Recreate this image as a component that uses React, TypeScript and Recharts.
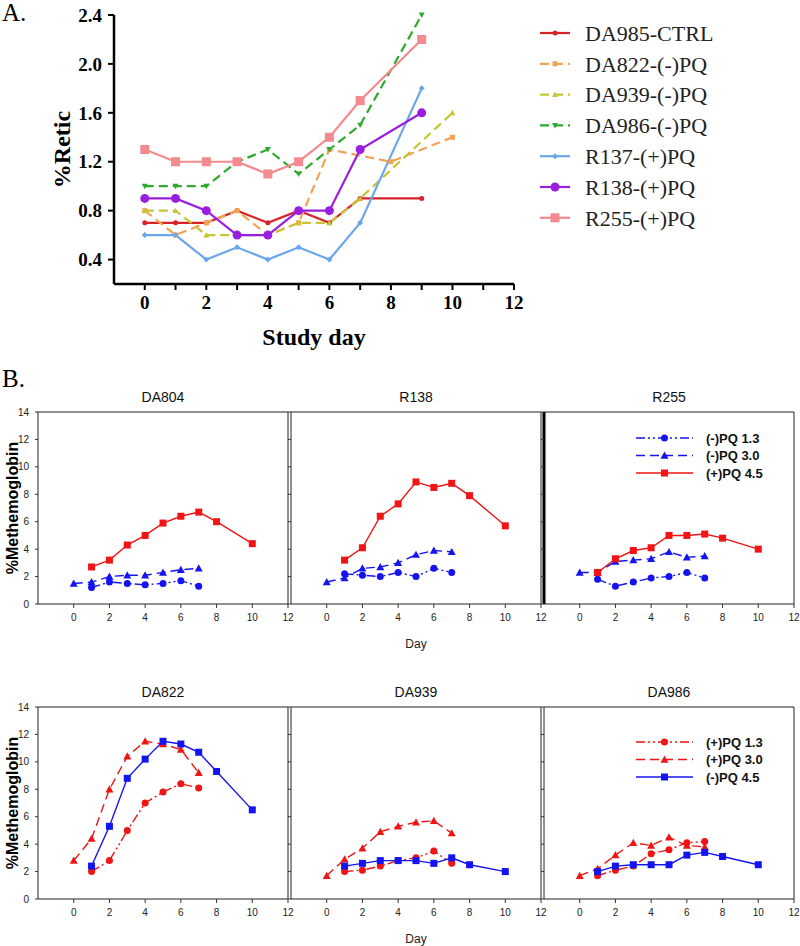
import React from 'react';
import { LineChart, Line, XAxis, YAxis, Legend, ReferenceArea, ReferenceLine } from 'recharts';

const SERIF = "'Liberation Serif', 'Times New Roman', serif";
const SANS = "'Liberation Sans', Arial, sans-serif";

// ---- Panel A: %Retic by study day ----
const studyDays = [0, 1, 2, 3, 4, 5, 6, 7, 8, 9, 10];
const da985Ctrl = [0.7, 0.7, 0.7, 0.8, 0.7, 0.8, 0.7, 0.9, null, 0.9, null];
const da822Minus = [0.8, 0.6, 0.7, 0.8, 0.6, 0.7, 1.3, null, 1.2, null, 1.4];
const da939Minus = [0.8, 0.8, 0.6, 0.6, 0.6, 0.7, 0.7, 0.9, null, null, 1.6];
const da986Minus = [1.0, 1.0, 1.0, 1.2, 1.3, 1.1, 1.3, 1.5, null, 2.4, null];
const r137Plus = [0.6, 0.6, 0.4, 0.5, 0.4, 0.5, 0.4, 0.7, null, 1.8, null];
const r138Plus = [0.9, 0.9, 0.8, 0.6, 0.6, 0.8, 0.8, 1.3, null, 1.6, null];
const r255Plus = [1.3, 1.2, 1.2, 1.2, 1.1, 1.2, 1.4, 1.7, null, 2.2, null];
const reticTicks = [0.4, 0.8, 1.2, 1.6, 2.0, 2.4];
const studyDayTicks = [0, 1, 2, 3, 4, 5, 6, 7, 8, 9, 10, 11, 12];

// ---- Panel B: %Methemoglobin by day ----
const metDays = [0, 1, 2, 3, 4, 5, 6, 7, 8, 10];
const dayTicks = [0, 2, 4, 6, 8, 10, 12];
const metTicks = [0, 2, 4, 6, 8, 10, 12, 14];

const da804Low = [null, 1.2, 1.6, 1.5, 1.4, 1.5, 1.7, 1.3, null, null];
const da804Mid = [1.5, 1.6, 2.0, 2.1, 2.1, 2.3, 2.5, 2.6, null, null];
const da804High = [null, 2.7, 3.2, 4.3, 5.0, 5.9, 6.4, 6.7, 6.0, 4.4];

const r138Low = [null, 2.2, 2.1, 2.0, 2.3, 2.0, 2.6, 2.3, null, null];
const r138Mid = [1.6, 1.9, 2.6, 2.7, 3.0, 3.6, 3.9, 3.8, null, null];
const r138High = [null, 3.2, 4.1, 6.4, 7.3, 8.9, 8.5, 8.8, 7.9, 5.7];

const r255Low = [null, 1.8, 1.3, 1.6, 1.9, 2.0, 2.3, 1.9, null, null];
const r255Mid = [2.3, 2.3, 3.1, 3.2, 3.3, 3.8, 3.4, 3.5, null, null];
const r255High = [null, 2.3, 3.3, 3.9, 4.1, 5.0, 5.0, 5.1, 4.8, 4.0];

const da822Low = [null, 2.0, 2.8, 5.0, 7.0, 7.8, 8.4, 8.1, null, null];
const da822Mid = [2.8, 4.4, 8.0, 10.4, 11.5, 11.3, 10.9, 9.2, null, null];
const da822High = [null, 2.4, 5.3, 8.8, 10.2, 11.5, 11.3, 10.7, 9.3, 6.5];

const da939Low = [null, 2.0, 2.1, 2.4, 2.8, 3.0, 3.5, 2.6, null, null];
const da939Mid = [1.7, 2.9, 3.7, 4.9, 5.3, 5.6, 5.7, 4.8, null, null];
const da939High = [null, 2.4, 2.6, 2.8, 2.8, 2.8, 2.6, 3.0, 2.5, 2.0];

const da986Low = [null, 1.7, 2.1, 2.4, 3.3, 3.6, 4.1, 4.2, null, null];
const da986Mid = [1.7, 2.2, 3.2, 4.1, 3.9, 4.5, 3.9, 3.8, null, null];
const da986High = [null, 2.0, 2.4, 2.5, 2.5, 2.5, 3.2, 3.4, 3.1, 2.5];

const topLegend = ['(-)PQ 1.3', '(-)PQ 3.0', '(+)PQ 4.5'];
const bottomLegend = ['(+)PQ 1.3', '(+)PQ 3.0', '(-)PQ 4.5'];

type Shape = 'circle' | 'square' | 'triangle' | 'triangleDown' | 'diamond';

interface SeriesStyle {
  key: string;
  name: string;
  color: string;
  dash?: string;
  shape: Shape;
  size: number;
  width: number;
}

function Marker({ shape, x, y, size, color }: { shape: Shape; x: number; y: number; size: number; color: string }) {
  const h = size / 2;
  if (shape === 'circle') return <circle cx={x} cy={y} r={h} fill={color} />;
  if (shape === 'square') return <rect x={x - h} y={y - h} width={size} height={size} fill={color} />;
  if (shape === 'diamond')
    return <polygon points={`${x},${y - h} ${x + h},${y} ${x},${y + h} ${x - h},${y}`} fill={color} />;
  if (shape === 'triangleDown')
    return <polygon points={`${x - h},${y - h * 0.8} ${x + h},${y - h * 0.8} ${x},${y + h}`} fill={color} />;
  return <polygon points={`${x},${y - h} ${x + h},${y + h * 0.8} ${x - h},${y + h * 0.8}`} fill={color} />;
}

const dotFor = (s: SeriesStyle) => (p: any) =>
  p.cx == null || p.cy == null ? (
    <g key={`${s.key}-${p.index}`} />
  ) : (
    <Marker key={`${s.key}-${p.index}`} shape={s.shape} x={p.cx} y={p.cy} size={s.size} color={s.color} />
  );

// rotated axis title, centred on the axis viewBox
function VerticalLabel(props: any) {
  const { viewBox, text, shift = 0, size = 16, weight = 'bold', family = SANS } = props;
  if (!viewBox) return null;
  const x = viewBox.x + shift;
  const y = viewBox.y + viewBox.height / 2;
  return (
    <text
      x={x}
      y={y}
      transform={`rotate(-90, ${x}, ${y})`}
      textAnchor="middle"
      dominantBaseline="central"
      fontSize={size}
      fontWeight={weight}
      fontFamily={family}
      fill="#000"
    >
      {text}
    </text>
  );
}

const reticSeries: (SeriesStyle & { values: (number | null)[] })[] = [
  { key: 'c985', name: 'DA985-CTRL', color: '#d8222a', shape: 'circle', size: 5, width: 2.2, values: da985Ctrl },
  { key: 'm822', name: 'DA822-(-)PQ', color: '#f2a456', dash: '9 5', shape: 'square', size: 5, width: 2.2, values: da822Minus },
  { key: 'm939', name: 'DA939-(-)PQ', color: '#c8c436', dash: '9 5', shape: 'triangle', size: 6, width: 2.2, values: da939Minus },
  { key: 'm986', name: 'DA986-(-)PQ', color: '#2eaa2e', dash: '9 5', shape: 'triangleDown', size: 6, width: 2.2, values: da986Minus },
  { key: 'p137', name: 'R137-(+)PQ', color: '#69a6ec', shape: 'diamond', size: 6, width: 2.2, values: r137Plus },
  { key: 'p138', name: 'R138-(+)PQ', color: '#9a1ee0', shape: 'circle', size: 9, width: 2.2, values: r138Plus },
  { key: 'p255', name: 'R255-(+)PQ', color: '#f28a8e', shape: 'square', size: 9, width: 2.2, values: r255Plus },
];

const reticData = studyDays.map((day, i) => {
  const row: Record<string, number | null> = { day };
  reticSeries.forEach((s) => {
    row[s.key] = s.values[i];
  });
  return row;
});

function LegendSample({ s, x, y, len }: { s: SeriesStyle; x: number; y: number; len: number }) {
  return (
    <g>
      <line x1={x} y1={y} x2={x + len} y2={y} stroke={s.color} strokeWidth={s.width} strokeDasharray={s.dash} />
      <Marker shape={s.shape} x={x + len / 2} y={y} size={s.size} color={s.color} />
    </g>
  );
}

const reticLegend = () => (
  <svg width={260} height={225}>
    {reticSeries.map((s, i) => {
      const y = 18 + i * 30.8;
      return (
        <g key={s.key}>
          <LegendSample s={s} x={10} y={y} len={30} />
          <text x={55} y={y} dy="0.35em" fontSize={22} fontFamily={SERIF} fill="#222">
            {s.name}
          </text>
        </g>
      );
    })}
  </svg>
);

const BLUE = '#1414f0';
const RED = '#f01414';
const DASH_DOT_DOT = '9 3 2 3 2 3';
const LONG_DASH = '9 5';

const topStyles: SeriesStyle[] = [
  { key: 'low', name: topLegend[0], color: BLUE, dash: DASH_DOT_DOT, shape: 'circle', size: 7, width: 1.4 },
  { key: 'mid', name: topLegend[1], color: BLUE, dash: LONG_DASH, shape: 'triangle', size: 8, width: 1.4 },
  { key: 'high', name: topLegend[2], color: RED, shape: 'square', size: 7, width: 1.4 },
];
const bottomStyles: SeriesStyle[] = [
  { key: 'low', name: bottomLegend[0], color: RED, dash: DASH_DOT_DOT, shape: 'circle', size: 7, width: 1.4 },
  { key: 'mid', name: bottomLegend[1], color: RED, dash: LONG_DASH, shape: 'triangle', size: 8, width: 1.4 },
  { key: 'high', name: bottomLegend[2], color: BLUE, shape: 'square', size: 7, width: 1.4 },
];

const metLegend = (styles: SeriesStyle[]) => () => (
  <svg width={170} height={56}>
    {styles.map((s, i) => {
      const y = 9 + i * 17.5;
      return (
        <g key={s.key}>
          <LegendSample s={s} x={5} y={y} len={57} />
          <text x={75} y={y} dy="0.36em" fontSize={13} fontWeight="bold" fontFamily={SANS} fill="#111">
            {s.name}
          </text>
        </g>
      );
    })}
  </svg>
);

const PLOT_W = 250;
const PLOT_H = 192;

interface PanelProps {
  title: string;
  low: (number | null)[];
  mid: (number | null)[];
  high: (number | null)[];
  styles: SeriesStyle[];
  left: number;
  top: number;
  first?: boolean;
  showDay?: boolean;
  legendTop?: number;
  thickLeft?: boolean;
}

function MetPanel({ title, low, mid, high, styles, left, top, first, showDay, legendTop, thickLeft }: PanelProps) {
  const data = metDays.map((day, i) => ({ day, low: low[i], mid: mid[i], high: high[i] }));
  const tickStyle = { fontSize: 10, fill: '#222', fontFamily: SANS };
  return (
    <div style={{ position: 'absolute', left: left - 40, top: top - 30 }}>
      <LineChart width={40 + PLOT_W + 12} height={30 + PLOT_H + 50} data={data} margin={{ top: 30, right: 12, bottom: 0, left: 0 }}>
        <XAxis
          dataKey="day"
          type="number"
          domain={[-2, 12]}
          ticks={dayTicks}
          height={50}
          tickSize={4}
          tickMargin={6}
          tick={tickStyle}
          tickLine={{ stroke: '#333' }}
          axisLine={false}
          label={showDay ? { value: 'Day', position: 'insideBottom', offset: 6, fontSize: 12, fontFamily: SANS, fill: '#222' } : undefined}
        />
        <YAxis
          type="number"
          domain={[0, 14]}
          ticks={metTicks}
          width={40}
          tickSize={3}
          tickMargin={6}
          tick={tickStyle}
          tickLine={{ stroke: '#333' }}
          axisLine={false}
          tickFormatter={first ? (v: number) => String(v) : () => ''}
          label={first ? <VerticalLabel text="%Methemoglobin" shift={14} size={16} /> : undefined}
        />
        <ReferenceArea
          x1={-2}
          x2={12}
          y1={0}
          y2={14}
          fill="none"
          fillOpacity={0}
          stroke="#222"
          strokeWidth={1}
          label={{ value: title, position: 'top', offset: 10, fontSize: 14, fontFamily: SANS, fill: '#111' }}
        />
        {thickLeft && <ReferenceLine x={-2} stroke="#000" strokeWidth={3} />}
        {styles.map((s) => (
          <Line
            key={s.key}
            dataKey={s.key}
            stroke={s.color}
            strokeWidth={s.width}
            strokeDasharray={s.dash}
            connectNulls
            dot={dotFor(s)}
            activeDot={false}
            isAnimationActive={false}
          />
        ))}
        {legendTop !== undefined && (
          <Legend
            layout="vertical"
            align="center"
            verticalAlign="middle"
            content={metLegend(styles)}
            wrapperStyle={{ left: 127, top: legendTop, width: 170, height: 56 }}
          />
        )}
      </LineChart>
    </div>
  );
}

const ROW1 = 412;
const ROW2 = 707;
const COLS = [38, 291, 544];

export default function App() {
  return (
    <div style={{ position: 'absolute', left: 0, top: 0, width: 800, height: 946, background: '#fff' }}>
      <div style={{ position: 'absolute', left: 2, top: 0, fontSize: 25, lineHeight: 1, fontFamily: SERIF }}>A.</div>
      <div style={{ position: 'absolute', left: 2, top: 366, fontSize: 25, lineHeight: 1, fontFamily: SERIF }}>B.</div>

      <div style={{ position: 'absolute', left: 0, top: 0 }}>
        <LineChart width={800} height={360} data={reticData} margin={{ top: 15, right: 286, bottom: 0, left: 54 }}>
          <XAxis
            dataKey="day"
            type="number"
            domain={[-1, 12]}
            ticks={studyDayTicks}
            tickFormatter={(v: number) => (v % 2 === 0 ? String(v) : '')}
            height={76}
            tickSize={6}
            tickMargin={6}
            axisLine={{ stroke: '#000', strokeWidth: 2.5 }}
            tickLine={{ stroke: '#000', strokeWidth: 2 }}
            tick={{ fontSize: 19, fontWeight: 'bold', fontFamily: SERIF, fill: '#000' }}
            label={{ value: 'Study day', position: 'insideBottom', offset: 15, fontSize: 24, fontWeight: 'bold', fontFamily: SERIF, fill: '#000' }}
          />
          <YAxis
            type="number"
            domain={[0.2, 2.4]}
            ticks={reticTicks}
            tickFormatter={(v: number) => v.toFixed(1)}
            width={60}
            tickSize={6}
            tickMargin={6}
            axisLine={{ stroke: '#000', strokeWidth: 2.5 }}
            tickLine={{ stroke: '#000', strokeWidth: 2 }}
            tick={{ fontSize: 19, fontWeight: 'bold', fontFamily: SERIF, fill: '#000' }}
            label={<VerticalLabel text="%Retic" shift={8} size={24} family={SERIF} />}
          />
          {reticSeries.map((s) => (
            <Line
              key={s.key}
              dataKey={s.key}
              name={s.name}
              stroke={s.color}
              strokeWidth={s.width}
              strokeDasharray={s.dash}
              connectNulls
              dot={dotFor(s)}
              activeDot={false}
              isAnimationActive={false}
            />
          ))}
          <Legend
            layout="vertical"
            align="center"
            verticalAlign="middle"
            content={reticLegend}
            wrapperStyle={{ left: 530, top: 15, width: 260, height: 225 }}
          />
        </LineChart>
      </div>

      <MetPanel title="DA804" low={da804Low} mid={da804Mid} high={da804High} styles={topStyles} left={COLS[0]} top={ROW1} first />
      <MetPanel title="R138" low={r138Low} mid={r138Mid} high={r138High} styles={topStyles} left={COLS[1]} top={ROW1} showDay />
      <MetPanel title="R255" low={r255Low} mid={r255Mid} high={r255High} styles={topStyles} left={COLS[2]} top={ROW1} legendTop={47} thickLeft />

      <MetPanel title="DA822" low={da822Low} mid={da822Mid} high={da822High} styles={bottomStyles} left={COLS[0]} top={ROW2} first />
      <MetPanel title="DA939" low={da939Low} mid={da939Mid} high={da939High} styles={bottomStyles} left={COLS[1]} top={ROW2} showDay />
      <MetPanel title="DA986" low={da986Low} mid={da986Mid} high={da986High} styles={bottomStyles} left={COLS[2]} top={ROW2} legendTop={56} />
    </div>
  );
}
